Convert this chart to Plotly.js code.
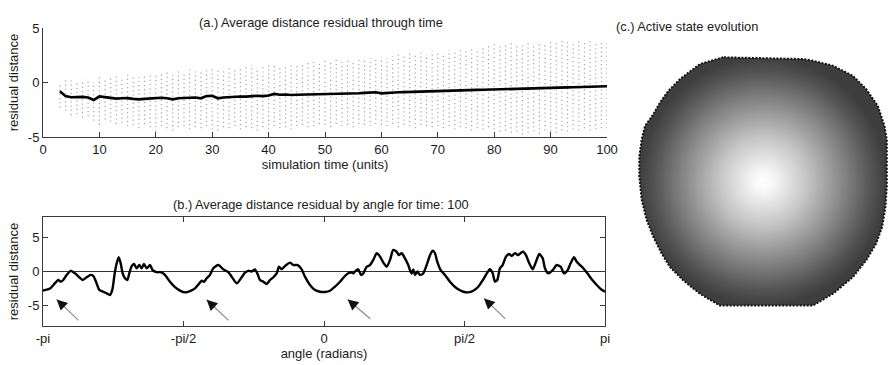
<!DOCTYPE html>
<html><head><meta charset="utf-8">
<script src="https://cdn.plot.ly/plotly-3.0.1.min.js"></script>
<style>html,body{margin:0;padding:0;background:#fff}#chart{width:889px;height:365px}</style>
</head><body><div id="chart"></div>
<script>
// ---------- panel (a) data ----------
const timeSteps = [3,4,5,6,7,8,9,10,11,12,13,14,15,16,17,18,19,20,21,22,23,24,25,26,27,28,29,30,31,32,33,34,35,36,37,38,39,40,41,42,43,44,45,46,47,48,49,50,51,52,53,54,55,56,57,58,59,60,61,62,63,64,65,66,67,68,69,70,71,72,73,74,75,76,77,78,79,80,81,82,83,84,85,86,87,88,89,90,91,92,93,94,95,96,97,98,99,100];
const meanResidual = [-0.8,-1.25,-1.35,-1.33,-1.32,-1.38,-1.6,-1.28,-1.35,-1.42,-1.48,-1.45,-1.43,-1.5,-1.55,-1.5,-1.48,-1.45,-1.4,-1.45,-1.55,-1.45,-1.42,-1.4,-1.38,-1.45,-1.25,-1.22,-1.45,-1.38,-1.33,-1.3,-1.28,-1.3,-1.25,-1.22,-1.25,-1.2,-1.05,-1.12,-1.1,-1.15,-1.13,-1.12,-1.1,-1.12,-1.1,-1.1,-1.08,-1.05,-1.03,-1.02,-1.0,-0.98,-0.95,-0.92,-0.9,-1.0,-0.95,-0.92,-0.9,-0.88,-0.86,-0.85,-0.84,-0.83,-0.82,-0.8,-0.78,-0.77,-0.75,-0.72,-0.7,-0.69,-0.68,-0.67,-0.66,-0.64,-0.63,-0.62,-0.6,-0.59,-0.58,-0.56,-0.55,-0.53,-0.51,-0.49,-0.48,-0.46,-0.45,-0.43,-0.41,-0.4,-0.38,-0.37,-0.35,-0.34];
const sampleHigh = [0.0,0.2,0.3,0.1,0.3,0.2,0.0,0.5,0.3,0.4,0.6,0.5,0.7,0.6,0.5,0.8,0.7,0.9,0.8,1.0,0.9,1.1,1.0,1.2,1.1,1.0,1.3,1.4,1.2,1.3,1.5,1.4,1.3,1.5,1.6,1.4,1.5,1.6,1.7,1.5,1.6,1.8,1.7,1.6,1.8,1.9,1.8,2.0,1.9,2.1,2.0,2.2,2.0,2.1,2.3,2.2,2.1,2.3,2.2,2.4,2.6,2.5,2.9,2.7,2.8,2.6,2.9,2.8,2.7,3.0,2.9,3.1,3.0,3.2,3.1,3.3,3.4,3.5,3.3,3.5,3.6,3.4,3.5,3.7,3.6,3.8,3.7,3.8,3.6,3.9,3.7,3.8,4.0,3.8,3.9,3.7,3.9,3.8];
const sampleLow = [-2.3,-2.6,-3.0,-2.9,-3.2,-3.1,-3.5,-3.9,-3.4,-3.6,-3.8,-3.7,-4.0,-3.9,-4.2,-3.8,-4.1,-4.5,-4.0,-4.2,-4.4,-4.1,-4.0,-4.3,-4.1,-4.2,-4.0,-4.3,-4.4,-4.1,-4.2,-4.0,-4.3,-4.1,-4.2,-4.4,-4.1,-4.3,-4.0,-4.2,-4.1,-4.3,-4.0,-3.9,-4.1,-4.0,-3.8,-3.9,-4.1,-3.8,-4.0,-3.9,-4.1,-3.8,-3.9,-4.0,-3.8,-3.9,-4.0,-3.8,-4.1,-3.9,-4.0,-4.2,-3.9,-4.0,-4.1,-4.0,-4.2,-4.0,-4.3,-4.1,-4.2,-4.4,-4.2,-4.3,-4.1,-4.3,-4.5,-4.4,-4.6,-4.5,-4.8,-4.6,-4.5,-4.7,-4.4,-4.5,-4.6,-4.4,-4.5,-4.3,-4.4,-4.2,-4.4,-4.3,-4.2,-4.2];
const timeTicks = [0,10,20,30,40,50,60,70,80,90,100];
const residualTicks = [-5,0,5];
const residualTickText = ['-5','0','5'];

// ---------- panel (b) data ----------
const angleRad = [-3.142,-3.063,-3.007,-2.971,-2.944,-2.915,-2.877,-2.832,-2.784,-2.736,-2.698,-2.653,-2.608,-2.579,-2.549,-2.512,-2.468,-2.430,-2.393,-2.367,-2.340,-2.318,-2.295,-2.273,-2.251,-2.225,-2.199,-2.177,-2.150,-2.124,-2.094,-2.065,-2.038,-2.013,-1.982,-1.945,-1.915,-1.871,-1.826,-1.778,-1.722,-1.666,-1.610,-1.554,-1.498,-1.442,-1.394,-1.368,-1.342,-1.312,-1.275,-1.238,-1.182,-1.126,-1.070,-1.032,-0.976,-0.928,-0.883,-0.846,-0.808,-0.772,-0.746,-0.716,-0.679,-0.641,-0.604,-0.567,-0.529,-0.503,-0.473,-0.436,-0.380,-0.343,-0.294,-0.250,-0.213,-0.157,-0.101,-0.045,0.011,0.067,0.123,0.179,0.234,0.271,0.302,0.327,0.354,0.383,0.413,0.439,0.477,0.514,0.551,0.589,0.626,0.663,0.701,0.738,0.774,0.812,0.838,0.868,0.905,0.942,0.961,0.980,0.998,1.017,1.043,1.073,1.110,1.148,1.185,1.215,1.241,1.266,1.304,1.352,1.408,1.483,1.557,1.613,1.669,1.725,1.781,1.825,1.855,1.886,1.911,1.937,1.967,1.997,2.035,2.071,2.098,2.135,2.172,2.202,2.228,2.258,2.295,2.333,2.370,2.407,2.445,2.470,2.507,2.557,2.601,2.646,2.683,2.720,2.757,2.795,2.825,2.862,2.899,2.944,2.993,3.049,3.104,3.142];
const angleResidual = [-2.8,-2.5,-1.7,-1.25,-1.5,-1.25,-0.5,0.1,-0.27,-0.85,-1.25,-0.85,-0.5,-0.66,-1.5,-2.7,-2.97,-3.2,-3.45,-2.7,-0.27,1.2,2.1,1.2,-0.27,-1.0,-1.25,-0.27,0.8,1.1,0.47,0.95,0.47,1.1,0.47,0.95,0.2,-0.1,-0.1,-0.5,-1.5,-2.3,-2.8,-3.06,-2.87,-2.47,-1.74,-1.35,-1.5,-1.0,-0.5,0.47,0.95,0.32,-0.1,-0.76,-1.74,-1.0,-0.17,0.1,0.0,0.32,-0.27,-1.25,-1.5,-1.84,-1.25,-0.85,-0.27,0.7,0.32,0.8,1.3,0.95,0.95,0.32,-0.76,-1.98,-2.72,-2.97,-3.0,-2.82,-2.23,-1.5,-0.66,-0.27,-0.1,-0.27,0.1,0.32,-0.5,-0.27,0.7,0.95,1.7,2.68,2.2,1.3,0.7,1.7,3.16,2.9,2.4,2.68,1.94,0.95,0.2,-0.3,0.3,-0.5,0.0,-0.5,-0.27,0.95,2.4,3.06,2.68,1.44,0.2,-0.5,-1.5,-2.47,-2.97,-3.06,-2.82,-2.23,-1.15,-0.17,0.32,-0.27,-1.5,-1.25,0.47,0.95,2.18,2.57,2.28,2.68,2.4,2.76,2.9,2.4,1.2,0.32,1.44,2.57,1.94,0.47,-0.27,0.2,0.95,0.7,-0.27,0.1,1.2,2.1,1.44,0.95,0.47,-0.27,-1.15,-1.98,-2.68,-2.97];
const angleTickVals = [-Math.PI, -Math.PI/2, 0, Math.PI/2, Math.PI];
const angleTickText = ['-pi', '-pi/2', '0', 'pi/2', 'pi'];
const arrowHeadX = [-2.989, -1.312, 0.265, 1.789];
const arrowHeadY = [-4.1, -4.15, -4.1, -3.95];
const arrowTailX = [-2.728, -1.051, 0.533, 2.042];
const arrowTailY = [-7.38, -7.38, -7.13, -7.13];

// ---------- panel (c) data ----------
const diskU = [-39.7,-63,-83,-94.7,-103,-109.7,-118,-121.3,-123.7,-123.7,-121.3,-116.3,-109.7,-101.3,-93,-79.7,-63,-43,50.3,70.3,90.3,103.7,113.7,119.7,123,124.3,124.3,122,115.3,103.7,90.3,70.3,50.3,40.3];
const diskV = [123.7,117,102,90.3,78.7,67,55.3,42,25.3,5.3,-18,-38,-54.7,-71.3,-84.7,-98,-111.3,-123,-123,-111.3,-94.7,-78,-61.3,-44.7,-24.7,-4.7,42,55.3,75.3,92,105.3,115.3,120.3,122];
const shadeStops = [0, 0.08, 0.35, 0.65, 0.88, 1];
const shadeColors = ['#ffffff', '#f7f7f7', '#c6c6c6', '#858585', '#535353', '#3e3e3e'];

// ---------- build ----------
const W = 889, H = 365;
const dx = (a, b) => [a / W, b / W];
const dy = (top, bottom) => [1 - bottom / H, 1 - top / H];
const FONT = 'Liberation Sans, Arial, Helvetica, sans-serif';
const AX = '#3a3a3a';

const colX = [], colY = [];
timeSteps.forEach((t, i) => { colX.push(t, t, null); colY.push(sampleLow[i], sampleHigh[i], null); });

const traces = [
  { type: 'scatter', mode: 'lines', x: colX, y: colY, xaxis: 'x', yaxis: 'y',
    line: { color: '#a4a4a4', width: 1.2, dash: '1.2px,3px' }, hoverinfo: 'skip', showlegend: false },
  { type: 'scatter', mode: 'lines', x: timeSteps, y: meanResidual, xaxis: 'x', yaxis: 'y',
    line: { color: '#000', width: 2.6 }, showlegend: false },
  { type: 'scatter', mode: 'lines', x: angleRad, y: angleResidual, xaxis: 'x2', yaxis: 'y2',
    line: { color: '#000', width: 2.4, shape: 'spline', smoothing: 0.6 }, showlegend: false },
  { type: 'scatter', mode: 'lines', x: diskU.concat([diskU[0]]), y: diskV.concat([diskV[0]]),
    xaxis: 'x3', yaxis: 'y3', fill: 'toself',
    fillgradient: { type: 'radial', colorscale: shadeStops.map((s, i) => [s, shadeColors[i]]) },
    line: { color: '#111', width: 2, dash: '2px,1.5px' }, hoverinfo: 'skip', showlegend: false }
];

const axBase = {
  showgrid: false, zeroline: false, showline: true, linecolor: AX, linewidth: 1,
  ticks: 'inside', ticklen: 5, tickcolor: AX, tickwidth: 1,
  tickfont: { family: FONT, size: 13, color: '#1a1a1a' }, fixedrange: true
};

const annotations = [
  { text: '(a.) Average distance residual through time', xref: 'paper', yref: 'paper',
    x: 321 / W, y: 1 - 13 / H, showarrow: false, font: { family: FONT, size: 12.8, color: '#1a1a1a' } },
  { text: '(b.) Average distance residual by angle for time: 100', xref: 'paper', yref: 'paper',
    x: 321 / W, y: 1 - 204 / H, showarrow: false, font: { family: FONT, size: 12.8, color: '#1a1a1a' } },
  { text: '(c.) Active state evolution', xref: 'paper', yref: 'paper',
    x: 760 / W, y: 1 - 17 / H, showarrow: false, font: { family: FONT, size: 12.8, color: '#1a1a1a' } }
];
arrowHeadX.forEach((hx, i) => {
  annotations.push({ x: hx, y: arrowHeadY[i], ax: arrowTailX[i], ay: arrowTailY[i],
    xref: 'x2', yref: 'y2', axref: 'x2', ayref: 'y2', text: '', showarrow: true,
    arrowhead: 0, arrowwidth: 1.2, arrowcolor: '#8a8a8a' });
  annotations.push({ x: hx, y: arrowHeadY[i],
    ax: hx + 0.3 * (arrowTailX[i] - hx), ay: arrowHeadY[i] + 0.3 * (arrowTailY[i] - arrowHeadY[i]),
    xref: 'x2', yref: 'y2', axref: 'x2', ayref: 'y2', text: '', showarrow: true,
    arrowhead: 2, arrowsize: 1.25, arrowwidth: 1.7, arrowcolor: '#111' });
});

const titleFont = { family: FONT, size: 13, color: '#1a1a1a' };

const layout = {
  width: W, height: H, margin: { l: 0, r: 0, t: 0, b: 0 },
  paper_bgcolor: '#fff', plot_bgcolor: 'rgba(0,0,0,0)', showlegend: false,
  font: { family: FONT, color: '#1a1a1a' },
  xaxis: Object.assign({}, axBase, { domain: dx(43, 607), range: [0, 100], tickvals: timeTicks, anchor: 'y',
    title: { text: 'simulation time (units)', font: titleFont, standoff: 1 } }),
  yaxis: Object.assign({}, axBase, { domain: dy(28, 137), range: [-5, 5], tickvals: residualTicks, ticktext: residualTickText, anchor: 'x',
    title: { text: 'residual distance', font: titleFont, standoff: 6 } }),
  xaxis2: Object.assign({}, axBase, { domain: dx(43, 605), range: [-Math.PI, Math.PI], tickvals: angleTickVals, ticktext: angleTickText,
    mirror: 'ticks', anchor: 'y2', title: { text: 'angle (radians)', font: titleFont, standoff: 1 } }),
  yaxis2: Object.assign({}, axBase, { domain: dy(217, 326), range: [-8, 8], tickvals: residualTicks, ticktext: residualTickText,
    mirror: 'ticks', anchor: 'x2', zeroline: true, zerolinecolor: '#333', zerolinewidth: 1,
    title: { text: 'residual distance', font: titleFont, standoff: 6 } }),
  xaxis3: { domain: dx(638, 888), range: [-125, 125.5], visible: false, fixedrange: true, anchor: 'y3' },
  yaxis3: { domain: dy(56, 307), range: [-124.5, 125], visible: false, fixedrange: true, anchor: 'x3' },
  annotations: annotations
};

Plotly.newPlot('chart', traces, layout, { staticPlot: true, displayModeBar: false });
</script>
</body></html>
